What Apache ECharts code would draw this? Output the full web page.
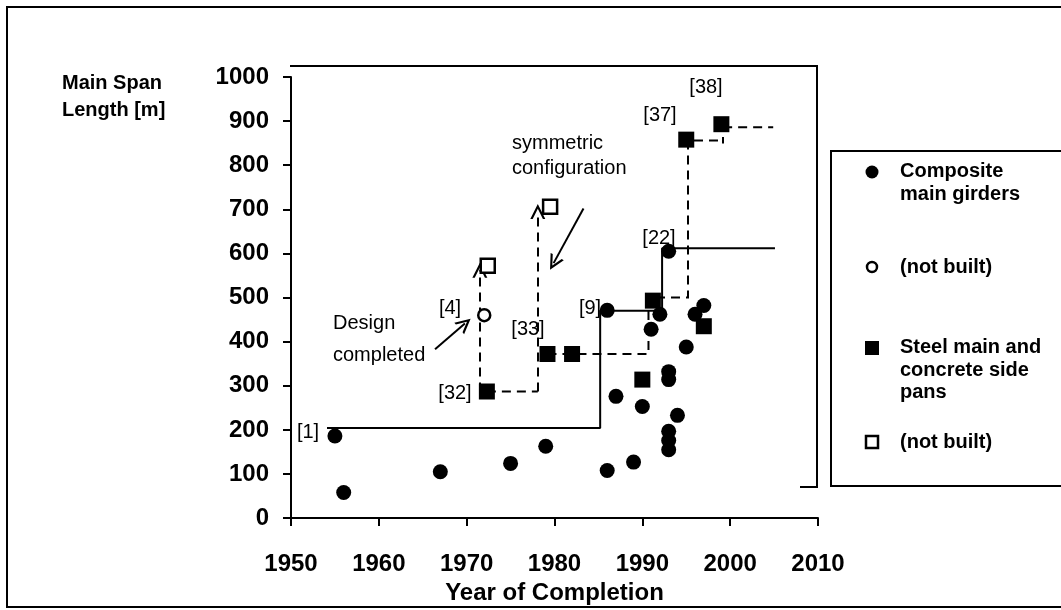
<!DOCTYPE html>
<html>
<head>
<meta charset="utf-8">
<title>Main span length vs year of completion</title>
<script src="https://cdn.jsdelivr.net/npm/echarts@6.0.0/dist/echarts.min.js"></script>
<style>
  html, body { margin: 0; padding: 0; background: #fff; }
  #chart { width: 1061px; height: 610px; }
</style>
</head>
<body>
<div id="chart"></div>
<script>
// [year of completion, main span in m]
const compositeBuilt = [
  [1955, 186], [1956, 58], [1967, 105], [1975, 124], [1979, 163],
  [1986, 471], [1986, 108], [1987, 276], [1989, 127], [1990, 253],
  [1991, 428], [1992, 462], [1993, 605], [1993, 332], [1993, 314],
  [1993, 197], [1993, 176], [1993, 155], [1994, 233], [1995, 388],
  [1996, 462], [1997, 482]
]
const compositeNotBuilt = [[1972, 460]]
const steelBuilt = [
  [1972.3, 287], [1979.2, 372], [1982, 372], [1990, 314], [1991.2, 493],
  [1997, 435], [1995, 858], [1999, 893]
]
const steelNotBuilt = [[1972.4, 572], [1979.5, 706]]

// record lines
const compositeRecord = [[1954.1, 204], [1985.2, 204], [1985.2, 470], [1992.25, 470], [1992.25, 612], [2005.1, 612]]
const steelRecord = [
  [[1972.3, 287], [1978.1, 287]],
  [[1979.2, 372], [1990.7, 372], [1990.7, 500], [1995.2, 500], [1995.2, 856], [1999.2, 856]],
  [[1999.2, 886], [2004.9, 886]]
]
const steelTick = [[[1999.2, 849], [1999.2, 864]]]
const designArrows = [
  [[1971.5, 287], [1971.5, 562]],
  [[1978.1, 287], [1978.1, 695]]
]
const noteArrows = [
  [[1966.4, 383], [1969.8, 441]],
  [[1983.3, 702], [1979.9, 578]]
]

const xTicks = { min: 1950, max: 2010, step: 10 }
const yTicks = { min: 0, max: 1000, step: 100 }

const FONT = '"Liberation Sans", Arial, sans-serif'
const chevron = 'path://M0,10L5,0L10,10L8.4,10L5,3.2L1.6,10Z'

const chart = echarts.init(document.getElementById('chart'))

// text notes, positioned in pixels
const notes = [
  ['[1]', 308, 432], ['[32]', 455, 393], ['[4]', 450, 308], ['[33]', 528, 329],
  ['[9]', 590, 308], ['[22]', 659, 238], ['[37]', 660, 115], ['[38]', 706, 87]
]
const graphics = []
notes.forEach(n => {
  graphics.push({
    type: 'text', x: n[1], y: n[2], z: 10,
    style: { text: n[0], font: '20px ' + FONT, fill: '#000', align: 'center', verticalAlign: 'middle' }
  })
})
graphics.push(
  { type: 'text', x: 333, y: 323, style: { text: 'Design', font: '20px ' + FONT, fill: '#000', verticalAlign: 'middle' } },
  { type: 'text', x: 333, y: 355, style: { text: 'completed', font: '20px ' + FONT, fill: '#000', verticalAlign: 'middle' } },
  { type: 'text', x: 512, y: 143, style: { text: 'symmetric', font: '20px ' + FONT, fill: '#000', verticalAlign: 'middle' } },
  { type: 'text', x: 512, y: 168, style: { text: 'configuration', font: '20px ' + FONT, fill: '#000', verticalAlign: 'middle' } },
  // y axis title
  { type: 'text', x: 62, y: 70, style: { text: 'Main Span\nLength [m]', font: 'bold 20px ' + FONT, fill: '#000', lineHeight: 27 } },
  // outer frame
  { type: 'rect', shape: { x: 7, y: 7, width: 1080, height: 600 }, style: { fill: 'none', stroke: '#000', lineWidth: 2 } },
  // plot frame (top and right)
  { type: 'polyline', shape: { points: [[290, 66], [817, 66], [817, 487], [800, 487]] }, style: { fill: 'none', stroke: '#000', lineWidth: 2 } },
  // legend box
  { type: 'rect', shape: { x: 831, y: 151, width: 260, height: 335 }, style: { fill: '#fff', stroke: '#000', lineWidth: 2 } },
  { type: 'circle', shape: { cx: 872, cy: 172, r: 6.5 }, style: { fill: '#000' } },
  { type: 'text', x: 900, y: 160, style: { text: 'Composite\nmain girders', font: 'bold 20px ' + FONT, fill: '#000', lineHeight: 23 } },
  { type: 'circle', shape: { cx: 872, cy: 267, r: 5 }, style: { fill: '#fff', stroke: '#000', lineWidth: 2.5 } },
  { type: 'text', x: 900, y: 267, style: { text: '(not built)', font: 'bold 20px ' + FONT, fill: '#000', verticalAlign: 'middle' } },
  { type: 'rect', shape: { x: 865, y: 341, width: 14, height: 14 }, style: { fill: '#000' } },
  { type: 'text', x: 900, y: 336.5, style: { text: 'Steel main and\nconcrete side\npans', font: 'bold 20px ' + FONT, fill: '#000', lineHeight: 22.5 } },
  { type: 'rect', shape: { x: 866, y: 436, width: 12, height: 12 }, style: { fill: '#fff', stroke: '#000', lineWidth: 2.5 } },
  { type: 'text', x: 900, y: 442, style: { text: '(not built)', font: 'bold 20px ' + FONT, fill: '#000', verticalAlign: 'middle' } }
)

const axisCommon = {
  type: 'value',
  axisLine: { show: true, lineStyle: { color: '#000', width: 2 } },
  axisTick: { show: true, length: 8, lineStyle: { color: '#000', width: 2 } },
  splitLine: { show: false },
  axisLabel: { color: '#000', fontFamily: FONT, fontWeight: 'bold', fontSize: 24, formatter: v => String(v) }
}

chart.setOption({
  animation: false,
  backgroundColor: '#fff',
  grid: { left: 291, right: 243, top: 77, bottom: 87 },
  xAxis: Object.assign({}, axisCommon, {
    min: xTicks.min, max: xTicks.max, interval: xTicks.step,
    name: 'Year of Completion', nameLocation: 'middle', nameGap: 50,
    nameTextStyle: { color: '#000', fontFamily: FONT, fontWeight: 'bold', fontSize: 24 },
    axisLabel: Object.assign({}, axisCommon.axisLabel, { margin: 34 })
  }),
  yAxis: Object.assign({}, axisCommon, {
    min: yTicks.min, max: yTicks.max, interval: yTicks.step,
    axisLabel: Object.assign({}, axisCommon.axisLabel, { margin: 22 })
  }),
  graphic: graphics,
  series: [
    {
      type: 'line', data: compositeRecord, symbol: 'none', silent: true, z: 1,
      lineStyle: { color: '#000', width: 2 }
    },
    {
      type: 'lines', coordinateSystem: 'cartesian2d', polyline: true, silent: true, z: 1,
      data: steelRecord.map(c => ({ coords: c })),
      lineStyle: { color: '#000', width: 2, type: [9, 6], opacity: 1 }
    },
    {
      type: 'lines', coordinateSystem: 'cartesian2d', silent: true, z: 1,
      data: steelTick.map(c => ({ coords: c })),
      symbol: 'none',
      lineStyle: { color: '#000', width: 2, opacity: 1 }
    },
    {
      type: 'lines', coordinateSystem: 'cartesian2d', silent: true, z: 1,
      data: designArrows.map(c => ({ coords: c })),
      symbol: ['none', chevron], symbolSize: 15,
      lineStyle: { color: '#000', width: 2, type: [9, 6], opacity: 1 }
    },
    {
      type: 'lines', coordinateSystem: 'cartesian2d', silent: true, z: 1,
      data: noteArrows.map(c => ({ coords: c })),
      symbol: ['none', chevron], symbolSize: 15,
      lineStyle: { color: '#000', width: 2, opacity: 1 }
    },
    {
      name: 'Composite main girders', type: 'scatter', data: compositeBuilt, z: 3,
      symbol: 'circle', symbolSize: 15, itemStyle: { color: '#000', opacity: 1 }
    },
    {
      name: 'Composite (not built)', type: 'scatter', data: compositeNotBuilt, z: 3,
      symbol: 'circle', symbolSize: 12,
      itemStyle: { color: '#fff', borderColor: '#000', borderWidth: 2.5, opacity: 1 }
    },
    {
      name: 'Steel main and concrete side pans', type: 'scatter', data: steelBuilt, z: 3,
      symbol: 'rect', symbolSize: 16, itemStyle: { color: '#000', opacity: 1 }
    },
    {
      name: 'Steel (not built)', type: 'scatter', data: steelNotBuilt, z: 3,
      symbol: 'rect', symbolSize: 14,
      itemStyle: { color: '#fff', borderColor: '#000', borderWidth: 2.5, opacity: 1 }
    }
  ]
})
</script>
</body>
</html>
